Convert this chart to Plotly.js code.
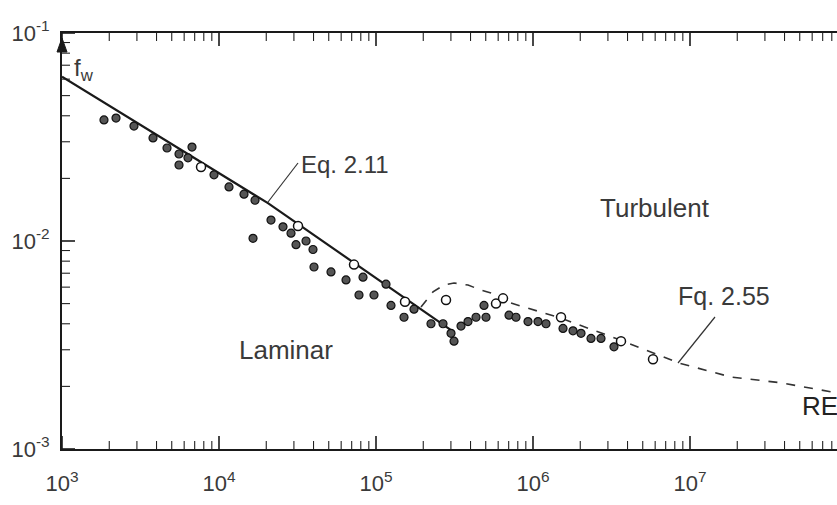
<!DOCTYPE html>
<html>
<head>
<meta charset="utf-8">
<script src="https://cdn.plot.ly/plotly-3.0.1.min.js"></script>
<style>
html,body{margin:0;padding:0;background:#fff;}
#chart{width:837px;height:505px;}
</style>
</head>
<body>
<div id="chart"></div>
<script>
// ---- data ----
const eq211Re = [1000, 20500, 300500];
const eq211F  = [0.0616, 0.0152, 0.00373];

const transRe = [193500, 230700, 271000, 314000, 385500, 466500, 540000, 625600, 724400];
const transF  = [0.00482, 0.00569, 0.00614, 0.00628, 0.00614, 0.00581, 0.00562, 0.00538, 0.00503];

const eq255Re = [724400, 1500000, 3600000, 8500000, 18200000, 38000000, 87000000];
const eq255F  = [0.00503, 0.00426, 0.00334, 0.00259, 0.00222, 0.00208, 0.00186];

const filledRe = [1851, 2208, 2874, 3799, 4665, 5563, 6730, 5563, 6346, 9294, 11580, 14430, 16960,
  21440, 25560, 28750, 30940, 35830, 39690, 16470, 40280, 51690, 64410, 82650, 77930, 97100,
  124600, 115800, 174600, 150800, 224000, 267200, 300500, 314000, 347900, 385500, 433500,
  501900, 487400, 703400, 779300, 929300, 1076000, 1210000, 1553000, 1798000, 2022000,
  2341000, 2711000, 3280000];
const filledF = [0.0382, 0.0390, 0.0357, 0.0313, 0.0280, 0.0262, 0.0283, 0.0232, 0.0251, 0.0208,
  0.0182, 0.0168, 0.0157, 0.0126, 0.0117, 0.0109, 0.0096, 0.0100, 0.0091, 0.0103, 0.0075,
  0.0071, 0.0065, 0.0067, 0.0055, 0.0055, 0.0049, 0.0062, 0.0047, 0.0043, 0.0040, 0.0040,
  0.0036, 0.0033, 0.0039, 0.0041, 0.0043, 0.0043, 0.0049, 0.0044, 0.0043, 0.0041, 0.0041,
  0.0040, 0.0038, 0.0037, 0.0036, 0.0034, 0.0034, 0.0031];

const openRe = [7683, 31860, 72420, 153000, 279200, 581200, 644200, 1508000, 3635000, 5812000];
const openF  = [0.0227, 0.0118, 0.0077, 0.0051, 0.0052, 0.0050, 0.0053, 0.0043, 0.0033, 0.0027];

const xTickVals = [1e3, 1e4, 1e5, 1e6, 1e7];
const xTickText = ['10<sup>3</sup>', '10<sup>4</sup>', '10<sup>5</sup>', '10<sup>6</sup>', '10<sup>7</sup>'];
const yTickVals = [1e-3, 1e-2, 1e-1];
const yTickText = ['10<sup>-3</sup>', '10<sup>-2</sup>', '10<sup>-1</sup>'];

// ---- frame geometry (pixels in the 837x505 picture) ----
const L = 62, T = 33, W = 775, H = 416;
const px = x => (x - L) / W;
const py = y => (T + H - y) / H;
const xRange = [3, 3 + W / 157];
const yRange = [-3, -1];
const xPerPx = (xRange[1] - xRange[0]) / W;   // decades per pixel
const yPerPx = (yRange[1] - yRange[0]) / H;

const ink = '#1a1a1a';
const txt = '#3a3a3a';

// minor tick values 2..9 per decade, kept inside the visible range
function minorTicks(lo, hi, maxLog) {
  const out = [];
  for (let p = lo; p < hi; p++) for (let m = 2; m <= 9; m++) {
    const v = m * Math.pow(10, p);
    if (Math.log10(v) <= maxLog) out.push(v);
  }
  return out;
}
const xMinor = minorTicks(3, 8, xRange[1]);
const yMinor = minorTicks(-3, -1, yRange[1]);

// tick marks as line segments in the axes' own coordinates
function xTickSeg(vals, len) {
  const xs = [], ys = [];
  const yb = Math.pow(10, yRange[0]), yt = Math.pow(10, yRange[1]);
  const d = Math.pow(10, len * yPerPx);
  vals.forEach(v => {
    xs.push(v, v, null, v, v, null);
    ys.push(yb, yb * d, null, yt, yt / d, null);
  });
  return {xs, ys};
}
function yTickSeg(vals, len) {
  const xs = [], ys = [];
  const xl = Math.pow(10, xRange[0]);
  const d = Math.pow(10, len * xPerPx);
  vals.forEach(v => { xs.push(xl, xl * d, null); ys.push(v, v, null); });
  return {xs, ys};
}
const xMaj = xTickSeg(xTickVals, 13), xMin = xTickSeg(xMinor, 8);
const yMaj = yTickSeg(yTickVals, 13), yMin = yTickSeg(yMinor, 8);

const traces = [
  {x: xMaj.xs, y: xMaj.ys, mode: 'lines', line: {color: ink, width: 1.6}, hoverinfo: 'skip', connectgaps: false},
  {x: xMin.xs, y: xMin.ys, mode: 'lines', line: {color: '#222', width: 1.1}, hoverinfo: 'skip', connectgaps: false},
  {x: yMaj.xs, y: yMaj.ys, mode: 'lines', line: {color: ink, width: 1.6}, hoverinfo: 'skip', connectgaps: false},
  {x: yMin.xs, y: yMin.ys, mode: 'lines', line: {color: '#222', width: 1.1}, hoverinfo: 'skip', connectgaps: false},
  {x: eq211Re, y: eq211F, mode: 'lines', line: {color: ink, width: 2.2}},
  {x: transRe, y: transF, mode: 'lines', line: {color: '#333', width: 1.6, dash: 'dash'}},
  {x: eq255Re, y: eq255F, mode: 'lines', line: {color: '#333', width: 1.6, dash: 'dash'}},
  {x: filledRe, y: filledF, mode: 'markers',
   marker: {symbol: 'circle', size: 8, color: '#555', line: {color: '#111', width: 1.2}}},
  {x: openRe, y: openF, mode: 'markers',
   marker: {symbol: 'circle', size: 9, color: '#fff', line: {color: '#111', width: 1.5}}}
];

const axisCommon = {
  type: 'log', tickmode: 'array',
  showgrid: false, zeroline: false, showline: true, linecolor: ink, linewidth: 2,
  ticks: '',
  tickfont: {family: 'Liberation Sans, Arial, sans-serif', size: 22, color: txt}
};

const layout = {
  width: 837, height: 505,
  margin: {l: L, r: 0, t: T, b: 505 - T - H},
  paper_bgcolor: '#fff', plot_bgcolor: '#fff',
  showlegend: false,
  font: {family: 'Liberation Sans, Arial, sans-serif', color: txt, size: 22},
  xaxis: Object.assign({}, axisCommon, {
    range: xRange, tickvals: xTickVals, ticktext: xTickText, mirror: true, ticklabelstandoff: 14
  }),
  yaxis: Object.assign({}, axisCommon, {
    range: yRange, tickvals: yTickVals, ticktext: yTickText, ticklabelstandoff: 6
  }),
  annotations: [
    {xref: 'paper', yref: 'paper', x: px(345), y: py(149), text: 'Eq. 2.11', showarrow: false, font: {size: 24, color: txt}},
    {xref: 'paper', yref: 'paper', x: px(712), y: py(208), text: 'Turbulent', showarrow: false, font: {size: 26, color: txt}},
    {xref: 'paper', yref: 'paper', x: px(772), y: py(296), text: 'Fq. 2.55', showarrow: false, font: {size: 25, color: txt}},
    {xref: 'paper', yref: 'paper', x: px(237), y: py(367), text: 'Laminar', showarrow: false, font: {size: 26, color: txt}},
    {xref: 'paper', yref: 'paper', x: px(800), xanchor: 'left', y: py(423), text: 'RE', showarrow: false, font: {size: 26, color: '#222'}},
    {xref: 'paper', yref: 'paper', x: px(72), xanchor: 'left', y: py(52), text: 'f<sub>w</sub>', showarrow: false, font: {size: 24, color: txt}}
  ],
  shapes: [
    {type: 'line', xref: 'paper', yref: 'paper', x0: px(298), y0: py(163), x1: px(268), y1: py(202), line: {color: '#333', width: 1.2}},
    {type: 'line', xref: 'paper', yref: 'paper', x0: px(715), y0: py(317), x1: px(678), y1: py(363), line: {color: '#333', width: 1.2}},
    {type: 'path', xref: 'paper', yref: 'paper',
     path: 'M ' + px(57) + ' ' + py(52) + ' L ' + px(62) + ' ' + py(38) + ' L ' + px(67) + ' ' + py(52) + ' Z',
     fillcolor: ink, line: {color: ink, width: 1}}
  ]
};

Plotly.newPlot('chart', traces, layout, {staticPlot: true, displayModeBar: false});
</script>
</body>
</html>
